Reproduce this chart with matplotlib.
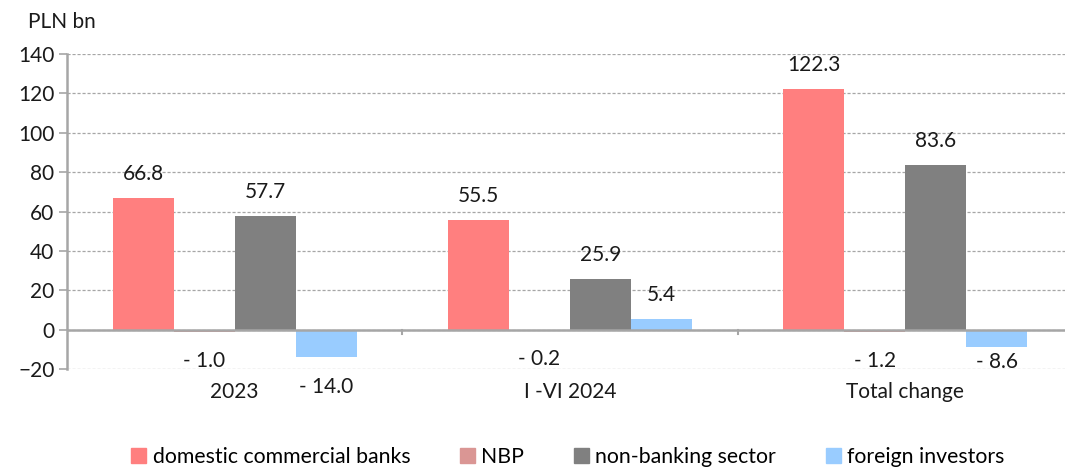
import numpy as np
import matplotlib.pyplot as plt
from matplotlib.patches import Patch

plt.rcParams['font.family'] = ['Lato', 'DejaVu Sans']

periods = ['2023', 'I -VI 2024', 'Total change']
holders = ['domestic commercial banks', 'NBP', 'non-banking sector', 'foreign investors']
banks = [66.8, 55.5, 122.3]
nbp = [-1.0, -0.2, -1.2]
non_banking = [57.7, 25.9, 83.6]
foreign = [-14.0, 5.4, -8.6]

series = [banks, nbp, non_banking, foreign]
colors = ['#FF7F7F', '#DA9694', '#808080', '#99CCFF']

fig = plt.figure(figsize=(10.65, 4.67), dpi=100)
ax = fig.add_axes([67 / 1065, 1 - 369 / 467, 1006 / 1065, 315 / 467])

x = np.arange(len(periods))
width = 0.182
grid_c = '#A6A6A6'

for i, (vals, c) in enumerate(zip(series, colors)):
    pos = x + (i - 1.5) * width
    ax.bar(pos, vals, width, color=c, zorder=2)
    for p, v in zip(pos, vals):
        if v >= 0:
            txt, dy, va = f'{v:.1f}', 10, 'bottom'
        else:
            txt, dy, va = f'- {abs(v):.1f}', -14, 'top'
            if v == -8.6:
                dy = -4
        ax.annotate(txt, (p, v), xytext=(0, dy), textcoords='offset points',
                    ha='center', va=va, fontsize=15, color='#1a1a1a')

ax.set_xlim(-0.5, 2.5)
ax.set_ylim(-20, 140)
ax.set_yticks(range(-20, 141, 20))
ax.yaxis.grid(True, color=grid_c, linestyle=(0, (2.5, 1.5)), linewidth=0.9, zorder=0)
ax.axhline(0, color=grid_c, linewidth=1.8, zorder=3)

# group separators hanging below the zero line
for d in [0.5, 1.5]:
    ax.plot([d, d], [0, -2.2], color=grid_c, linewidth=1.5, zorder=3, clip_on=False)

for s in ['top', 'right', 'bottom']:
    ax.spines[s].set_visible(False)
ax.spines['left'].set_color(grid_c)
ax.spines['left'].set_linewidth(1.8)
ax.tick_params(axis='y', colors=grid_c, length=6, width=1.2, labelcolor='#1a1a1a',
               labelsize=15, pad=3)
ax.set_xticks(x)
ax.set_xticklabels(periods)
ax.tick_params(axis='x', length=0, labelsize=15, labelcolor='#1a1a1a', pad=9)

fig.text(28 / 1065, 1 - 22 / 467, 'PLN bn', fontsize=15, va='center', ha='left',
         color='#1a1a1a')

handles = [Patch(color=c, label=h) for c, h in zip(colors, holders)]
fig.legend(handles=handles, loc='center', ncol=4, frameon=False,
           bbox_to_anchor=(568 / 1065, 1 - 457 / 467), fontsize=15.3,
           handlelength=0.7, handleheight=0.7, handletextpad=0.3, columnspacing=2.35)

fig.savefig('out.png', dpi=100)
